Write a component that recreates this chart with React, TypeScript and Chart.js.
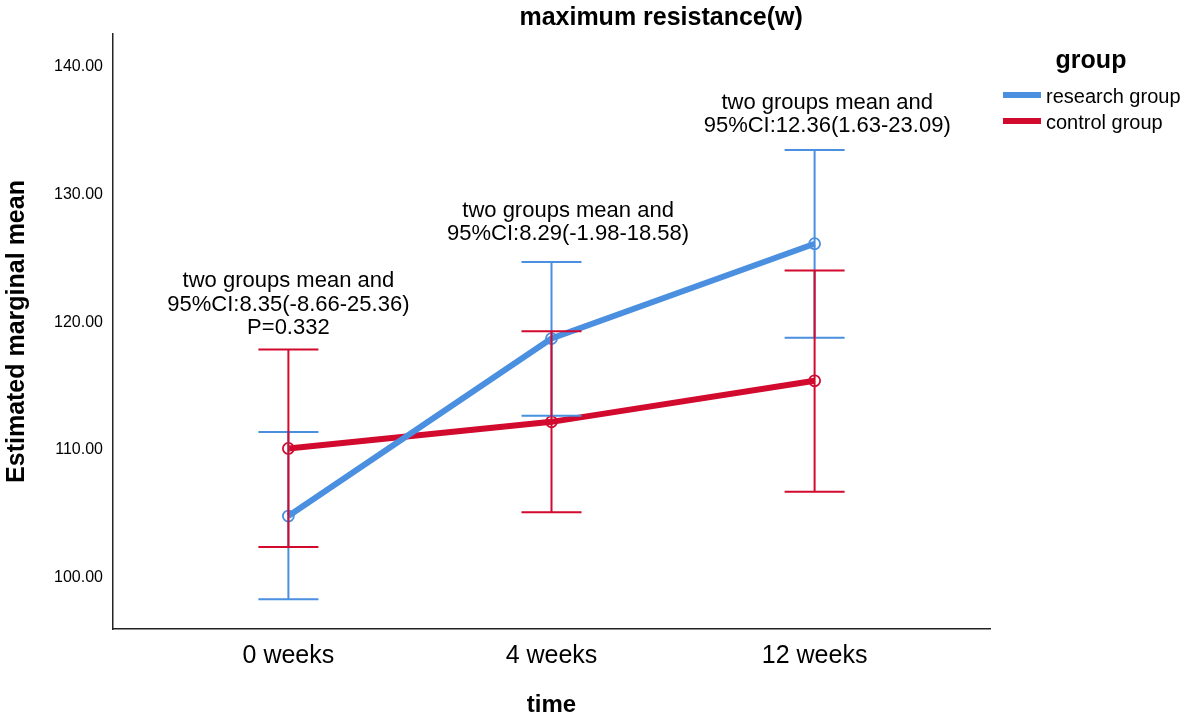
import React, { useRef, useEffect } from 'react';
import { Chart, registerables } from 'chart.js';
import type { Plugin } from 'chart.js';

Chart.register(...registerables);

const FONT = '"Liberation Sans", Arial, Helvetica, sans-serif';
const BLUE = '#4a8fe0';
const RED = '#d20a2e';

const categories = ['0 weeks', '4 weeks', '12 weeks'];
const yTicks = [100, 110, 120, 130, 140];

const researchMean = [104.84, 118.73, 126.15];
const researchLower = [98.33, 112.68, 118.8];
const researchUpper = [111.41, 124.71, 133.49];

const controlMean = [110.13, 112.21, 115.42];
const controlLower = [102.42, 105.13, 106.74];
const controlUpper = [117.87, 119.3, 124.06];

const groupNames = ['research group', 'control group'];

const noteTexts = [
  ['two groups mean and', '95%CI:8.35(-8.66-25.36)', 'P=0.332'],
  ['two groups mean and', '95%CI:8.29(-1.98-18.58)'],
  ['two groups mean and', '95%CI:12.36(1.63-23.09)'],
];

// anchors of the notes in data units (x index, y of first line)
const noteAnchors = [
  { x: 0, y: 123.2 },
  { x: 1.063, y: 128.75 },
  { x: 2.048, y: 137.2 },
];

const errorBars: Plugin<'line'> = {
  id: 'errorBars',
  afterDatasetsDraw(chart) {
    const { ctx, scales } = chart;
    const sets = [
      { lo: researchLower, hi: researchUpper, color: BLUE },
      { lo: controlLower, hi: controlUpper, color: RED },
    ];
    ctx.save();
    ctx.lineWidth = 2;
    for (const s of sets) {
      ctx.strokeStyle = s.color;
      s.lo.forEach((lo, i) => {
        const x = scales.x.getPixelForValue(i);
        const y1 = scales.y.getPixelForValue(lo);
        const y2 = scales.y.getPixelForValue(s.hi[i]);
        ctx.beginPath();
        ctx.moveTo(x, y1);
        ctx.lineTo(x, y2);
        ctx.moveTo(x - 30, y1);
        ctx.lineTo(x + 30, y1);
        ctx.moveTo(x - 30, y2);
        ctx.lineTo(x + 30, y2);
        ctx.stroke();
      });
    }
    ctx.restore();
  },
};

const notes: Plugin<'line'> = {
  id: 'notes',
  afterDraw(chart) {
    const { ctx, scales } = chart;
    ctx.save();
    ctx.fillStyle = '#000';
    ctx.font = `22px ${FONT}`;
    ctx.textAlign = 'center';
    ctx.textBaseline = 'middle';
    noteTexts.forEach((lines, i) => {
      const x = scales.x.getPixelForValue(noteAnchors[i].x);
      const y = scales.y.getPixelForValue(noteAnchors[i].y);
      lines.forEach((t, j) => ctx.fillText(t, x, y + j * 23.5));
    });
    ctx.restore();
  },
};

const titleAndLegend: Plugin<'line'> = {
  id: 'titleAndLegend',
  afterDraw(chart) {
    const { ctx, chartArea } = chart;
    ctx.save();
    ctx.fillStyle = '#000';
    ctx.textBaseline = 'middle';

    ctx.font = `bold 25px ${FONT}`;
    ctx.textAlign = 'center';
    ctx.fillText('maximum resistance(w)', chartArea.left + (chartArea.right - chartArea.left) * 0.625, 18);

    const lx = chartArea.right + 13;
    ctx.fillText('group', lx + 88, 61);

    ctx.font = `20px ${FONT}`;
    ctx.textAlign = 'left';
    [BLUE, RED].forEach((c, i) => {
      const y = 95 + i * 26;
      ctx.fillStyle = c;
      ctx.fillRect(lx, y - 3, 38, 6);
      ctx.fillStyle = '#000';
      ctx.fillText(groupNames[i], lx + 43, y + 2);
    });
    ctx.restore();
  },
};

export default function App() {
  const canvasRef = useRef<HTMLCanvasElement>(null);

  useEffect(() => {
    const canvas = canvasRef.current;
    if (!canvas) return;
    document.body.style.margin = '0';

    const toPoints = (arr: number[]) => arr.map((y, x) => ({ x, y }));

    const chart = new Chart(canvas, {
      type: 'line',
      data: {
        datasets: [
          {
            label: groupNames[0],
            data: toPoints(researchMean),
            borderColor: BLUE,
            borderWidth: 6,
            pointRadius: 5.5,
            pointBorderWidth: 1.8,
            pointBorderColor: BLUE,
            pointBackgroundColor: 'rgba(0,0,0,0)',
            tension: 0,
          },
          {
            label: groupNames[1],
            data: toPoints(controlMean),
            borderColor: RED,
            borderWidth: 6,
            pointRadius: 5.5,
            pointBorderWidth: 1.8,
            pointBorderColor: RED,
            pointBackgroundColor: 'rgba(0,0,0,0)',
            tension: 0,
          },
        ],
      },
      options: {
        animation: false,
        responsive: true,
        maintainAspectRatio: false,
        layout: { padding: { top: 34, right: 203, bottom: 0, left: 0 } },
        plugins: {
          legend: { display: false },
          title: { display: false },
          tooltip: { enabled: false },
        },
        scales: {
          x: {
            type: 'linear',
            min: -2 / 3,
            max: 8 / 3,
            grid: { display: false, drawTicks: false },
            border: { display: true, color: '#222', width: 1.5 },
            afterBuildTicks: scale => {
              scale.ticks = categories.map((_, i) => ({ value: i }));
            },
            afterFit: scale => {
              scale.height = 94;
            },
            ticks: {
              padding: 12,
              color: '#000',
              font: { family: FONT, size: 25 },
              callback: v => categories[Number(v)] ?? '',
            },
            title: {
              display: true,
              text: 'time',
              color: '#000',
              font: { family: FONT, size: 24, weight: 'bold' },
              padding: { top: 0, bottom: 3 },
            },
          },
          y: {
            min: 96,
            max: 142.56,
            grid: { display: false, drawTicks: false },
            border: { display: true, color: '#222', width: 1.5 },
            afterBuildTicks: scale => {
              scale.ticks = yTicks.map(value => ({ value }));
            },
            afterFit: scale => {
              scale.width = 113;
            },
            ticks: {
              padding: 10,
              color: '#000',
              font: { family: FONT, size: 16 },
              callback: v => Number(v).toFixed(2),
            },
            title: {
              display: true,
              text: 'Estimated marginal mean',
              color: '#000',
              font: { family: FONT, size: 25, weight: 'bold' },
              padding: { top: 2, bottom: 0 },
            },
          },
        },
      },
      plugins: [errorBars, notes, titleAndLegend],
    });

    return () => {
      chart.destroy();
    };
  }, []);

  return (
    <div style={{ width: 1193, height: 723, position: 'relative', background: '#fff' }}>
      <canvas ref={canvasRef} />
    </div>
  );
}
